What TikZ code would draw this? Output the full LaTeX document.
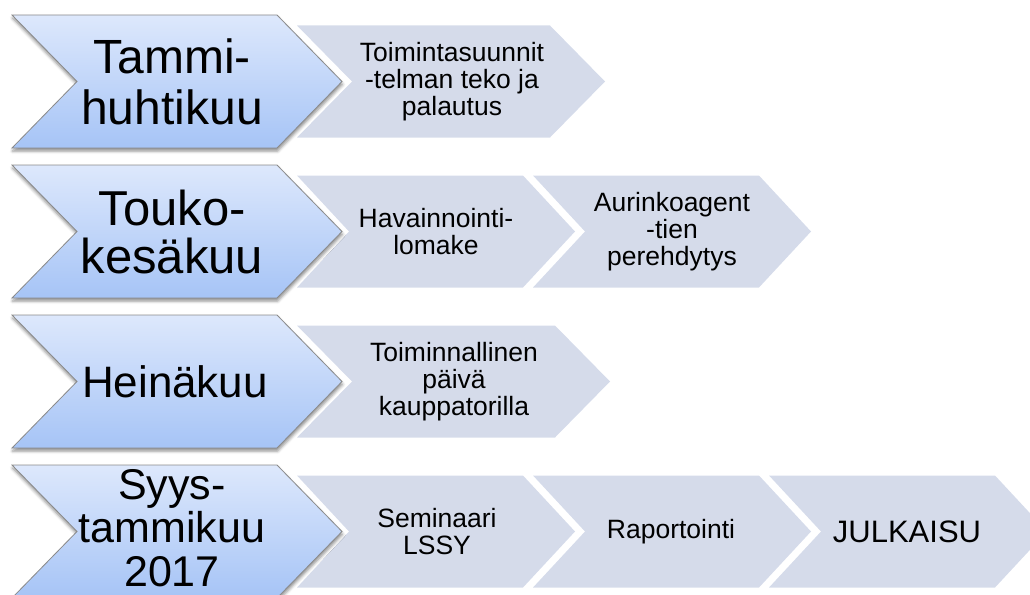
\documentclass[tikz,border=0pt]{standalone}
\usepackage{fontspec}
\setmainfont{Liberation Sans}
\usetikzlibrary{shadows.blur}
\definecolor{bigtop}{HTML}{DDE8FC}
\definecolor{bigbot}{HTML}{A6C4F6}
\definecolor{smallfill}{HTML}{D5DBEA}
\definecolor{bigedge}{HTML}{8A8A8A}
% #1 left x, #2 centre y, #3 width (left to tip), #4 half height, #5 depth, #6 style
\newcommand{\chevron}[6]{\path[#6] (#1,#2-#4) -- (#1+#3-#5,#2-#4) -- (#1+#3,#2) -- (#1+#3-#5,#2+#4) -- (#1,#2+#4) -- (#1+#5,#2) -- cycle;}
\tikzset{
  bigchev/.style={top color=bigtop, bottom color=bigbot, draw=bigedge, line width=0.8pt, line join=miter,
    blur shadow={shadow xshift=0.5pt, shadow yshift=-3pt, shadow blur radius=3pt, shadow opacity=45}},
  smallchev/.style={fill=smallfill, draw=none},
  bigtext/.style={align=center, inner sep=0pt, font=\fontsize{48}{51}\selectfont},
  smalltext/.style={align=center, inner sep=0pt, font=\fontsize{26.5}{27}\selectfont},
}
\begin{document}
\begin{tikzpicture}[x=1pt, y=-1pt]
\useasboundingbox (0,0) rectangle (1030,594);
% Row 1
\chevron{297}{81.5}{308}{56}{55}{smallchev}
\chevron{12}{81.5}{330}{66.5}{65}{bigchev}
\node[bigtext] (m1) at (172,82) {Tammi-\\huhtikuu};
\node[smalltext] (a1) at (452,82) {Toimintasuunnit\\-telman teko ja\\palautus};
% Row 2
\chevron{297}{231.5}{278}{56}{52}{smallchev}
\chevron{533}{231.5}{278}{56}{52}{smallchev}
\chevron{12}{231.5}{330}{66.5}{65}{bigchev}
\node[bigtext, font=\fontsize{49}{48}\selectfont] (m2) at (172,232) {Touko-\\kesäkuu};
\node[smalltext] (b1) at (436,232) {Havainnointi-\\lomake};
\node[smalltext] (b2) at (672,232) {Aurinkoagent\\-tien\\perehdytys};
% Row 3
\chevron{297}{381.5}{313}{56}{55}{smallchev}
\chevron{12}{381.5}{330}{66.5}{65}{bigchev}
\node[bigtext, font=\fontsize{44}{48}\selectfont] (m3) at (175,382) {Heinäkuu};
\node[smalltext] (c1) at (454,382) {Toiminnallinen\\päivä\\kauppatorilla};
% Row 4
\chevron{297}{531.5}{278}{56}{52}{smallchev}
\chevron{533}{531.5}{278}{56}{52}{smallchev}
\chevron{769}{531.5}{278}{56}{52}{smallchev}
\chevron{12}{531.5}{330}{66.5}{65}{bigchev}
\node[bigtext, font=\fontsize{43}{43.5}\selectfont] (m4) at (172,528) {Syys-\\tammikuu\\2017};
\node[smalltext] (d1) at (437,532) {Seminaari\\LSSY};
\node[smalltext] (d2) at (671,532) {Raportointi};
\node[smalltext, font=\fontsize{31}{33}\selectfont] (d3) at (907,532) {JULKAISU};
\end{tikzpicture}
\end{document}
